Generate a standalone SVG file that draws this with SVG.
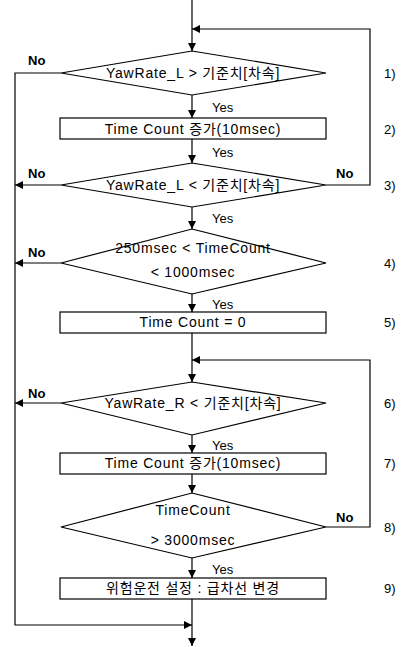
<svg xmlns="http://www.w3.org/2000/svg" width="403" height="647" viewBox="0 0 403 647">
<defs>
<marker id="ah" viewBox="0 0 10 10" refX="10" refY="5" markerWidth="8" markerHeight="8" markerUnits="userSpaceOnUse" orient="auto">
<path d="M0,0 L10,5 L0,10 z" fill="#000"/>
</marker>
<style>
.s{fill:#fff;stroke:#000;stroke-width:1.2}
.c{fill:none;stroke:#000;stroke-width:1.2}
.t{font-family:"Liberation Sans","Noto Sans CJK KR",Arial,sans-serif;font-size:14px;letter-spacing:0.8px;fill:#000;text-anchor:middle;dominant-baseline:central}
.l{font-family:"Liberation Sans",Arial,sans-serif;font-size:13px;fill:#000;dominant-baseline:central}
.b{font-weight:bold}
</style>
</defs>
<rect width="403" height="647" fill="#fff"/>
<g id="connectors">
<path class="c" d="M192,0 V51" marker-end="url(#ah)"/>
<path class="c" d="M326,185 H370 V29 H192" marker-end="url(#ah)"/>
<path class="c" d="M192,95 V118" marker-end="url(#ah)"/>
<path class="c" d="M192,139 V163" marker-end="url(#ah)"/>
<path class="c" d="M192,207 V229" marker-end="url(#ah)"/>
<path class="c" d="M192,294 V312" marker-end="url(#ah)"/>
<path class="c" d="M192,333 V382" marker-end="url(#ah)"/>
<path class="c" d="M326,527 H370 V360 H192" marker-end="url(#ah)"/>
<path class="c" d="M192,435 V453" marker-end="url(#ah)"/>
<path class="c" d="M192,474 V493" marker-end="url(#ah)"/>
<path class="c" d="M192,558 V578" marker-end="url(#ah)"/>
<path class="c" d="M192,599 V646" marker-end="url(#ah)"/>
<path class="c" d="M61,73 H15 V625 H192" marker-end="url(#ah)"/>
<path class="c" d="M61,185 H15" marker-end="url(#ah)"/>
<path class="c" d="M61,263 H15" marker-end="url(#ah)"/>
<path class="c" d="M61,403 H15" marker-end="url(#ah)"/>
<text class="l b" x="28" y="60">No</text>
<text class="l" x="212" y="107">Yes</text>
<text class="l" x="212" y="152">Yes</text>
<text class="l b" x="28" y="173">No</text>
<text class="l b" x="336" y="173">No</text>
<text class="l" x="212" y="218">Yes</text>
<text class="l b" x="28" y="252">No</text>
<text class="l" x="212" y="304">Yes</text>
<text class="l b" x="28" y="393">No</text>
<text class="l" x="212" y="445">Yes</text>
<text class="l b" x="336" y="517">No</text>
<text class="l" x="212" y="569">Yes</text>
</g>
<g id="n1">
<polygon class="s" points="192,51 326,73 192,95 61,73"/>
<text class="t" x="193" y="73">YawRate_L &gt; 기준치[차속]</text>
<text class="l" x="384" y="73">1)</text>
</g>
<g id="n2">
<rect class="s" x="60" y="118" width="266" height="21"/>
<text class="t" x="193" y="129">Time Count 증가(10msec)</text>
<text class="l" x="384" y="129">2)</text>
</g>
<g id="n3">
<polygon class="s" points="192,163 326,185 192,207 61,185"/>
<text class="t" x="193" y="185">YawRate_L &lt; 기준치[차속]</text>
<text class="l" x="384" y="185">3)</text>
</g>
<g id="n4">
<polygon class="s" points="192,229 326,263 192,294 61,263"/>
<text class="t" x="193" y="248">250msec &lt; TimeCount</text>
<text class="t" x="193" y="272">&lt; 1000msec</text>
<text class="l" x="384" y="263">4)</text>
</g>
<g id="n5">
<rect class="s" x="60" y="312" width="266" height="21"/>
<text class="t" x="193" y="322">Time Count = 0</text>
<text class="l" x="384" y="322">5)</text>
</g>
<g id="n6">
<polygon class="s" points="192,382 326,403 192,435 61,403"/>
<text class="t" x="193" y="403">YawRate_R &lt; 기준치[차속]</text>
<text class="l" x="384" y="403">6)</text>
</g>
<g id="n7">
<rect class="s" x="60" y="453" width="266" height="21"/>
<text class="t" x="193" y="463">Time Count 증가(10msec)</text>
<text class="l" x="384" y="463">7)</text>
</g>
<g id="n8">
<polygon class="s" points="192,493 326,527 192,558 61,527"/>
<text class="t" x="193" y="510">TimeCount</text>
<text class="t" x="193" y="540">&gt; 3000msec</text>
<text class="l" x="384" y="527">8)</text>
</g>
<g id="n9">
<rect class="s" x="60" y="578" width="266" height="21"/>
<text class="t" x="193" y="588">위험운전 설정 : 급차선 변경</text>
<text class="l" x="384" y="588">9)</text>
</g>
</svg>
